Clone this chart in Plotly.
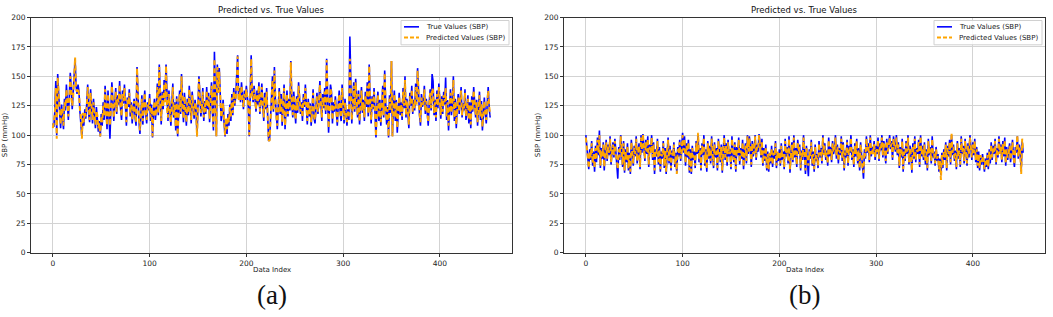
import plotly.graph_objects as go

# ---------------- data ----------------
x_ticks = [0, 100, 200, 300, 400]
y_ticks = [0, 25, 50, 75, 100, 125, 150, 175, 200]

a_true = [110,107,120,146,100,152,135,115,106,126,118,105,131,121,143,127,113,133,153,140,
          122,136,150,165,142,135,143,137,120,112,98,117,108,122,114,126,143,118,111,139,
          125,110,131,113,106,124,115,103,112,99,118,108,128,113,142,120,105,138,119,97,
          124,145,130,112,128,140,118,134,126,146,122,113,138,127,143,119,108,132,124,139,
          116,128,110,123,131,115,108,158,130,112,101,122,134,109,126,138,118,110,128,121,
          135,112,126,98,119,131,113,124,144,117,160,128,109,137,122,147,131,160,124,112,
          138,119,108,126,144,115,128,104,133,99,121,138,118,152,127,111,136,120,108,131,
          117,142,123,110,137,125,114,130,121,99,128,150,134,116,125,140,112,129,118,141,
          122,136,111,128,145,119,104,171,130,99,160,138,157,122,112,118,130,110,99,113,
          101,118,108,126,112,135,117,140,125,133,146,168,131,140,128,145,133,122,138,130,
          142,135,124,99,130,168,136,128,142,131,120,138,126,145,118,130,144,125,112,136,
          122,140,110,95,96,118,132,150,120,158,130,112,105,125,140,118,135,108,128,143,
          105,126,138,116,131,121,163,128,115,137,124,110,133,119,145,130,118,128,112,135,
          124,143,120,109,131,116,127,108,122,139,114,110,125,136,118,128,146,121,112,135,
          123,140,118,165,132,102,125,143,137,110,128,120,133,115,108,126,138,119,112,143,
          125,110,131,117,108,122,113,184,140,110,128,145,120,148,132,115,138,109,126,141,
          119,130,112,137,124,145,116,160,128,110,133,122,140,118,98,126,137,112,130,108,
          121,142,115,155,128,109,124,98,134,119,163,99,126,138,112,130,102,121,136,117,
          128,113,140,123,150,115,131,119,106,136,125,142,118,130,121,144,128,157,132,117,
          108,135,124,129,142,118,131,115,108,127,139,121,152,146,117,130,112,138,123,144,
          125,114,133,118,137,126,149,113,130,104,122,139,117,128,150,112,131,106,124,135,
          118,129,141,115,127,121,139,113,119,134,110,128,106,133,120,141,126,115,130,108,
          124,137,113,129,104,120,132,118,110,127,141,123,115]

a_pred = [106,110,117,140,97,149,132,118,109,123,120,108,128,124,139,129,116,130,150,137,
          125,133,147,166,139,137,140,135,122,115,97,119,111,120,116,124,141,120,113,136,
          123,113,128,115,109,121,117,106,110,99,116,111,125,116,139,122,108,135,121,108,
          122,142,128,115,126,137,120,131,128,143,124,116,135,129,140,121,111,130,126,136,
          118,126,113,121,129,117,111,157,127,114,104,120,131,112,124,136,120,113,126,123,
          132,115,124,99,121,129,116,122,141,119,158,125,112,134,124,144,128,159,122,115,
          135,121,111,124,141,117,126,107,131,100,123,135,120,150,125,114,133,122,111,128,
          119,139,125,113,134,127,117,128,123,99,126,148,132,119,123,137,115,127,120,138,
          124,133,114,126,142,121,107,165,128,99,158,136,154,124,115,120,127,113,100,115,
          105,116,111,124,115,132,119,137,127,131,143,167,129,137,130,142,131,124,135,132,
          139,132,126,100,128,165,134,130,139,129,122,135,128,142,120,128,141,127,115,133,
          124,137,112,96,95,120,130,147,122,155,128,115,108,123,137,120,132,111,126,140,
          108,124,135,118,129,123,162,126,117,134,126,113,131,121,142,128,120,126,115,132,
          126,140,122,112,129,118,125,111,120,136,116,113,123,133,120,126,143,123,115,132,
          125,137,120,164,129,106,123,140,134,113,126,122,130,117,111,124,135,121,115,140,
          127,113,128,119,111,120,116,165,137,113,126,142,122,145,130,117,135,112,124,138,
          121,128,115,134,126,142,118,159,126,113,131,124,137,120,99,124,134,115,128,111,
          123,139,117,153,126,112,122,99,131,121,163,99,124,135,115,128,106,123,133,119,
          126,116,137,125,147,117,129,121,109,133,127,139,120,128,123,141,126,155,130,119,
          111,132,126,127,139,120,129,117,111,125,136,123,140,138,119,128,115,135,125,141,
          127,117,131,120,134,128,140,116,128,108,124,136,119,126,147,115,129,109,122,132,
          120,127,138,117,125,123,136,116,121,131,113,126,109,130,122,138,128,117,128,111,
          122,134,116,127,107,122,129,120,113,125,138,125,117]

b_true = [100,92,84,71,88,79,95,74,86,69,91,77,98,83,104,72,89,80,94,70,
          87,96,78,92,83,99,75,88,94,81,97,86,74,63,90,79,100,84,73,95,
          68,88,77,93,70,85,67,96,80,74,91,82,99,76,87,93,71,100,85,101,
          90,78,96,84,99,73,92,87,100,79,94,67,88,82,97,75,90,69,86,80,
          95,72,89,67,84,98,76,91,70,87,80,94,73,85,68,90,82,96,78,88,
          102,85,99,74,93,81,96,68,88,67,91,79,86,72,95,84,101,77,89,70,
          93,83,100,74,88,69,95,80,91,76,99,86,72,94,81,89,70,97,84,77,
          92,68,87,100,79,93,74,96,82,88,71,99,85,77,94,69,90,83,98,75,
          89,80,96,71,87,93,76,100,84,99,90,73,95,82,88,100,79,92,86,101,
          94,81,97,74,89,78,92,70,86,69,83,76,91,73,87,80,95,72,84,78,
          88,74,93,79,86,71,97,82,90,76,99,68,85,94,77,100,81,89,73,96,
          84,92,70,87,79,100,83,67,91,75,65,88,80,96,74,86,69,92,78,84,
          72,95,81,89,76,100,85,93,79,87,74,98,82,90,77,95,84,88,100,80,
          92,76,89,83,99,78,94,70,87,81,96,74,91,85,100,79,88,73,93,82,
          97,76,89,70,94,83,68,63,88,80,99,85,93,77,100,82,90,86,95,79,
          91,84,98,78,93,87,100,81,95,89,76,97,84,92,100,88,95,79,99,91,
          86,100,83,94,72,90,81,97,69,88,78,95,84,100,75,91,86,68,93,80,
          99,77,89,84,96,73,100,82,91,79,94,75,88,70,97,83,90,76,99,81,
          86,74,90,78,84,69,80,66,85,72,88,79,94,70,91,82,96,75,100,83,
          92,78,87,71,95,80,89,73,99,84,91,76,97,86,74,93,81,100,88,79,
          94,83,97,77,90,72,86,70,81,75,84,78,69,80,73,85,71,88,76,94,
          79,91,84,97,75,89,81,99,86,92,77,95,82,98,74,90,79,86,93,77,
          88,96,81,73,90,85,99,80,92,87,69,95,85]

b_pred = [98,90,86,72,86,81,93,76,84,72,89,79,96,85,100,74,87,82,92,73,
          85,94,80,90,85,97,77,86,92,83,95,84,76,71,88,81,99,82,75,93,
          70,86,79,91,72,83,69,94,82,76,89,84,97,78,85,91,73,98,87,101,
          88,80,94,86,97,75,90,85,98,81,92,70,86,84,95,77,88,71,84,82,
          93,74,87,69,86,96,78,89,72,85,82,92,75,83,67,88,84,94,80,86,
          100,87,97,76,91,83,94,70,86,69,89,81,84,74,93,86,102,79,87,72,
          91,85,98,76,86,71,93,82,89,78,97,84,74,92,83,87,72,95,86,79,
          90,70,85,98,81,91,76,94,84,86,73,97,87,79,92,71,88,85,96,77,
          87,82,94,73,85,91,78,99,86,97,88,75,93,84,86,99,81,90,88,100,
          92,83,95,76,87,80,90,72,84,71,85,78,89,75,85,82,93,74,86,80,
          86,76,91,81,84,73,95,84,88,78,97,71,83,92,79,98,83,87,75,94,
          86,90,72,85,81,98,85,70,89,77,74,86,82,94,76,84,71,90,80,82,
          74,93,83,87,78,98,83,91,81,85,76,96,84,88,79,93,86,86,98,82,
          90,78,87,85,97,80,92,72,85,83,94,76,89,87,98,81,86,75,91,84,
          95,78,87,72,92,85,70,68,86,82,97,87,91,79,98,84,88,84,93,81,
          89,86,96,80,91,89,98,83,93,87,78,95,86,90,98,90,93,81,97,89,
          88,98,85,92,74,88,83,95,71,86,80,93,86,98,77,89,84,70,91,82,
          97,79,87,86,94,75,99,84,89,81,92,77,86,72,95,85,88,78,97,83,
          84,76,88,80,82,71,78,62,83,74,86,81,92,72,89,84,94,77,102,85,
          90,80,85,73,93,82,87,75,97,86,89,78,95,84,76,91,83,98,86,81,
          92,85,95,79,88,74,84,72,83,77,82,80,71,78,75,83,73,86,78,92,
          81,89,86,95,77,87,83,97,84,90,79,93,84,96,76,88,81,84,91,79,
          86,94,83,75,88,87,100,82,90,85,67,97,87]

title_text = "Predicted vs. True Values"
x_label = "Data Index"
y_label = "SBP (mmHg)"
true_name = "True Values (SBP)"
pred_name = "Predicted Values (SBP)"
panel_labels = ["(a)", "(b)"]

# ---------------- figure ----------------
W, H = 1053, 317
BLUE = "#0000ff"
ORANGE = "#ffa500"
FONT = "DejaVu Sans"
PRED_DASH = "5px,3px"

def px_x(p):
    return p / W

def px_y(p):
    return 1 - p / H

panels = [
    dict(l=31, r=512, t_true=a_true, t_pred=a_pred, xa="xaxis", ya="yaxis", xr="x", yr="y"),
    dict(l=564, r=1045, t_true=b_true, t_pred=b_pred, xa="xaxis2", ya="yaxis2", xr="x2", yr="y2"),
]
TOP, BOT = 14, 256

fig = go.Figure()
layout = dict(
    width=W, height=H,
    margin=dict(l=0, r=0, t=0, b=0),
    paper_bgcolor="white", plot_bgcolor="white",
    font=dict(family=FONT, size=7, color="#222"),
    showlegend=False,
    annotations=[],
    shapes=[],
)

for i, p in enumerate(panels):
    n = len(p["t_true"])
    fig.add_trace(go.Scatter(
        x=list(range(len(p["t_true"]))), y=p["t_true"], mode="lines", name=true_name,
        line=dict(color=BLUE, width=1.6), xaxis=p["xr"], yaxis=p["yr"]))
    fig.add_trace(go.Scatter(
        x=list(range(len(p["t_pred"]))), y=p["t_pred"], mode="lines", name=pred_name,
        line=dict(color=ORANGE, width=2, dash=PRED_DASH), xaxis=p["xr"], yaxis=p["yr"]))

    pad = 0.05 * (n - 1)
    layout[p["xa"]] = dict(
        domain=[px_x(p["l"]), px_x(p["r"])], range=[-pad, n - 1 + pad],
        tickvals=x_ticks, showgrid=True, gridcolor="#d3d3d3", gridwidth=1,
        showline=True, linecolor="#333", linewidth=1, mirror=True,
        ticks="outside", ticklen=3, tickcolor="#333", tickfont=dict(size=7.5),
        zeroline=False, anchor=p["yr"])
    layout[p["ya"]] = dict(
        domain=[px_y(BOT), px_y(TOP)], range=[0, 200],
        tickvals=y_ticks, showgrid=True, gridcolor="#d3d3d3", gridwidth=1,
        showline=True, linecolor="#333", linewidth=1, mirror=True,
        ticks="outside", ticklen=3, tickcolor="#333", tickfont=dict(size=7.5),
        zeroline=False, anchor=p["xr"])

    # legend box (drawn in the upper-right corner of each panel)
    bx0, bx1 = p["r"] - 111, p["r"] - 3
    by0, by1 = TOP + 3, TOP + 28
    layout["shapes"] += [
        dict(type="rect", xref="paper", yref="paper",
             x0=px_x(bx0), x1=px_x(bx1), y0=px_y(by1), y1=px_y(by0),
             fillcolor="rgba(255,255,255,0.85)", line=dict(color="#d0d0d0", width=1)),
        dict(type="line", xref="paper", yref="paper",
             x0=px_x(bx0 + 3), x1=px_x(bx0 + 18), y0=px_y(by0 + 6.5), y1=px_y(by0 + 6.5),
             line=dict(color=BLUE, width=1.6)),
        dict(type="line", xref="paper", yref="paper",
             x0=px_x(bx0 + 3), x1=px_x(bx0 + 18), y0=px_y(by0 + 17.5), y1=px_y(by0 + 17.5),
             line=dict(color=ORANGE, width=2, dash="4px,2px")),
    ]
    for k, name in enumerate([true_name, pred_name]):
        layout["annotations"].append(
            dict(text=name, x=px_x(bx0 + 23), y=px_y(by0 + 6.5 + 11 * k), xref="paper", yref="paper",
                 showarrow=False, xanchor="left", yanchor="middle",
                 font=dict(size=7, family=FONT, color="#222")))

    cx = (p["l"] + p["r"]) / 2
    layout["annotations"] += [
        dict(text=title_text, x=px_x(cx), y=px_y(6), xref="paper", yref="paper",
             showarrow=False, xanchor="center", yanchor="middle",
             font=dict(size=8.5, family=FONT, color="#111")),
        dict(text=x_label, x=px_x(cx), y=px_y(274), xref="paper", yref="paper",
             showarrow=False, xanchor="center", yanchor="middle",
             font=dict(size=7, family=FONT, color="#222")),
        dict(text=y_label, x=px_x(p["l"] - 26), y=px_y((TOP + BOT) / 2), xref="paper", yref="paper",
             showarrow=False, xanchor="center", yanchor="middle", textangle=-90,
             font=dict(size=7, family=FONT, color="#222")),
        dict(text=panel_labels[i], x=px_x(cx), y=px_y(300), xref="paper", yref="paper",
             showarrow=False, xanchor="center", yanchor="middle",
             font=dict(size=27, family="Liberation Serif", color="#111")),
    ]

fig.update_layout(**layout)
fig.write_html("out.html",
               config={"displayModeBar": False},
               post_script="document.body.style.margin='0';document.body.style.overflow='hidden';")
